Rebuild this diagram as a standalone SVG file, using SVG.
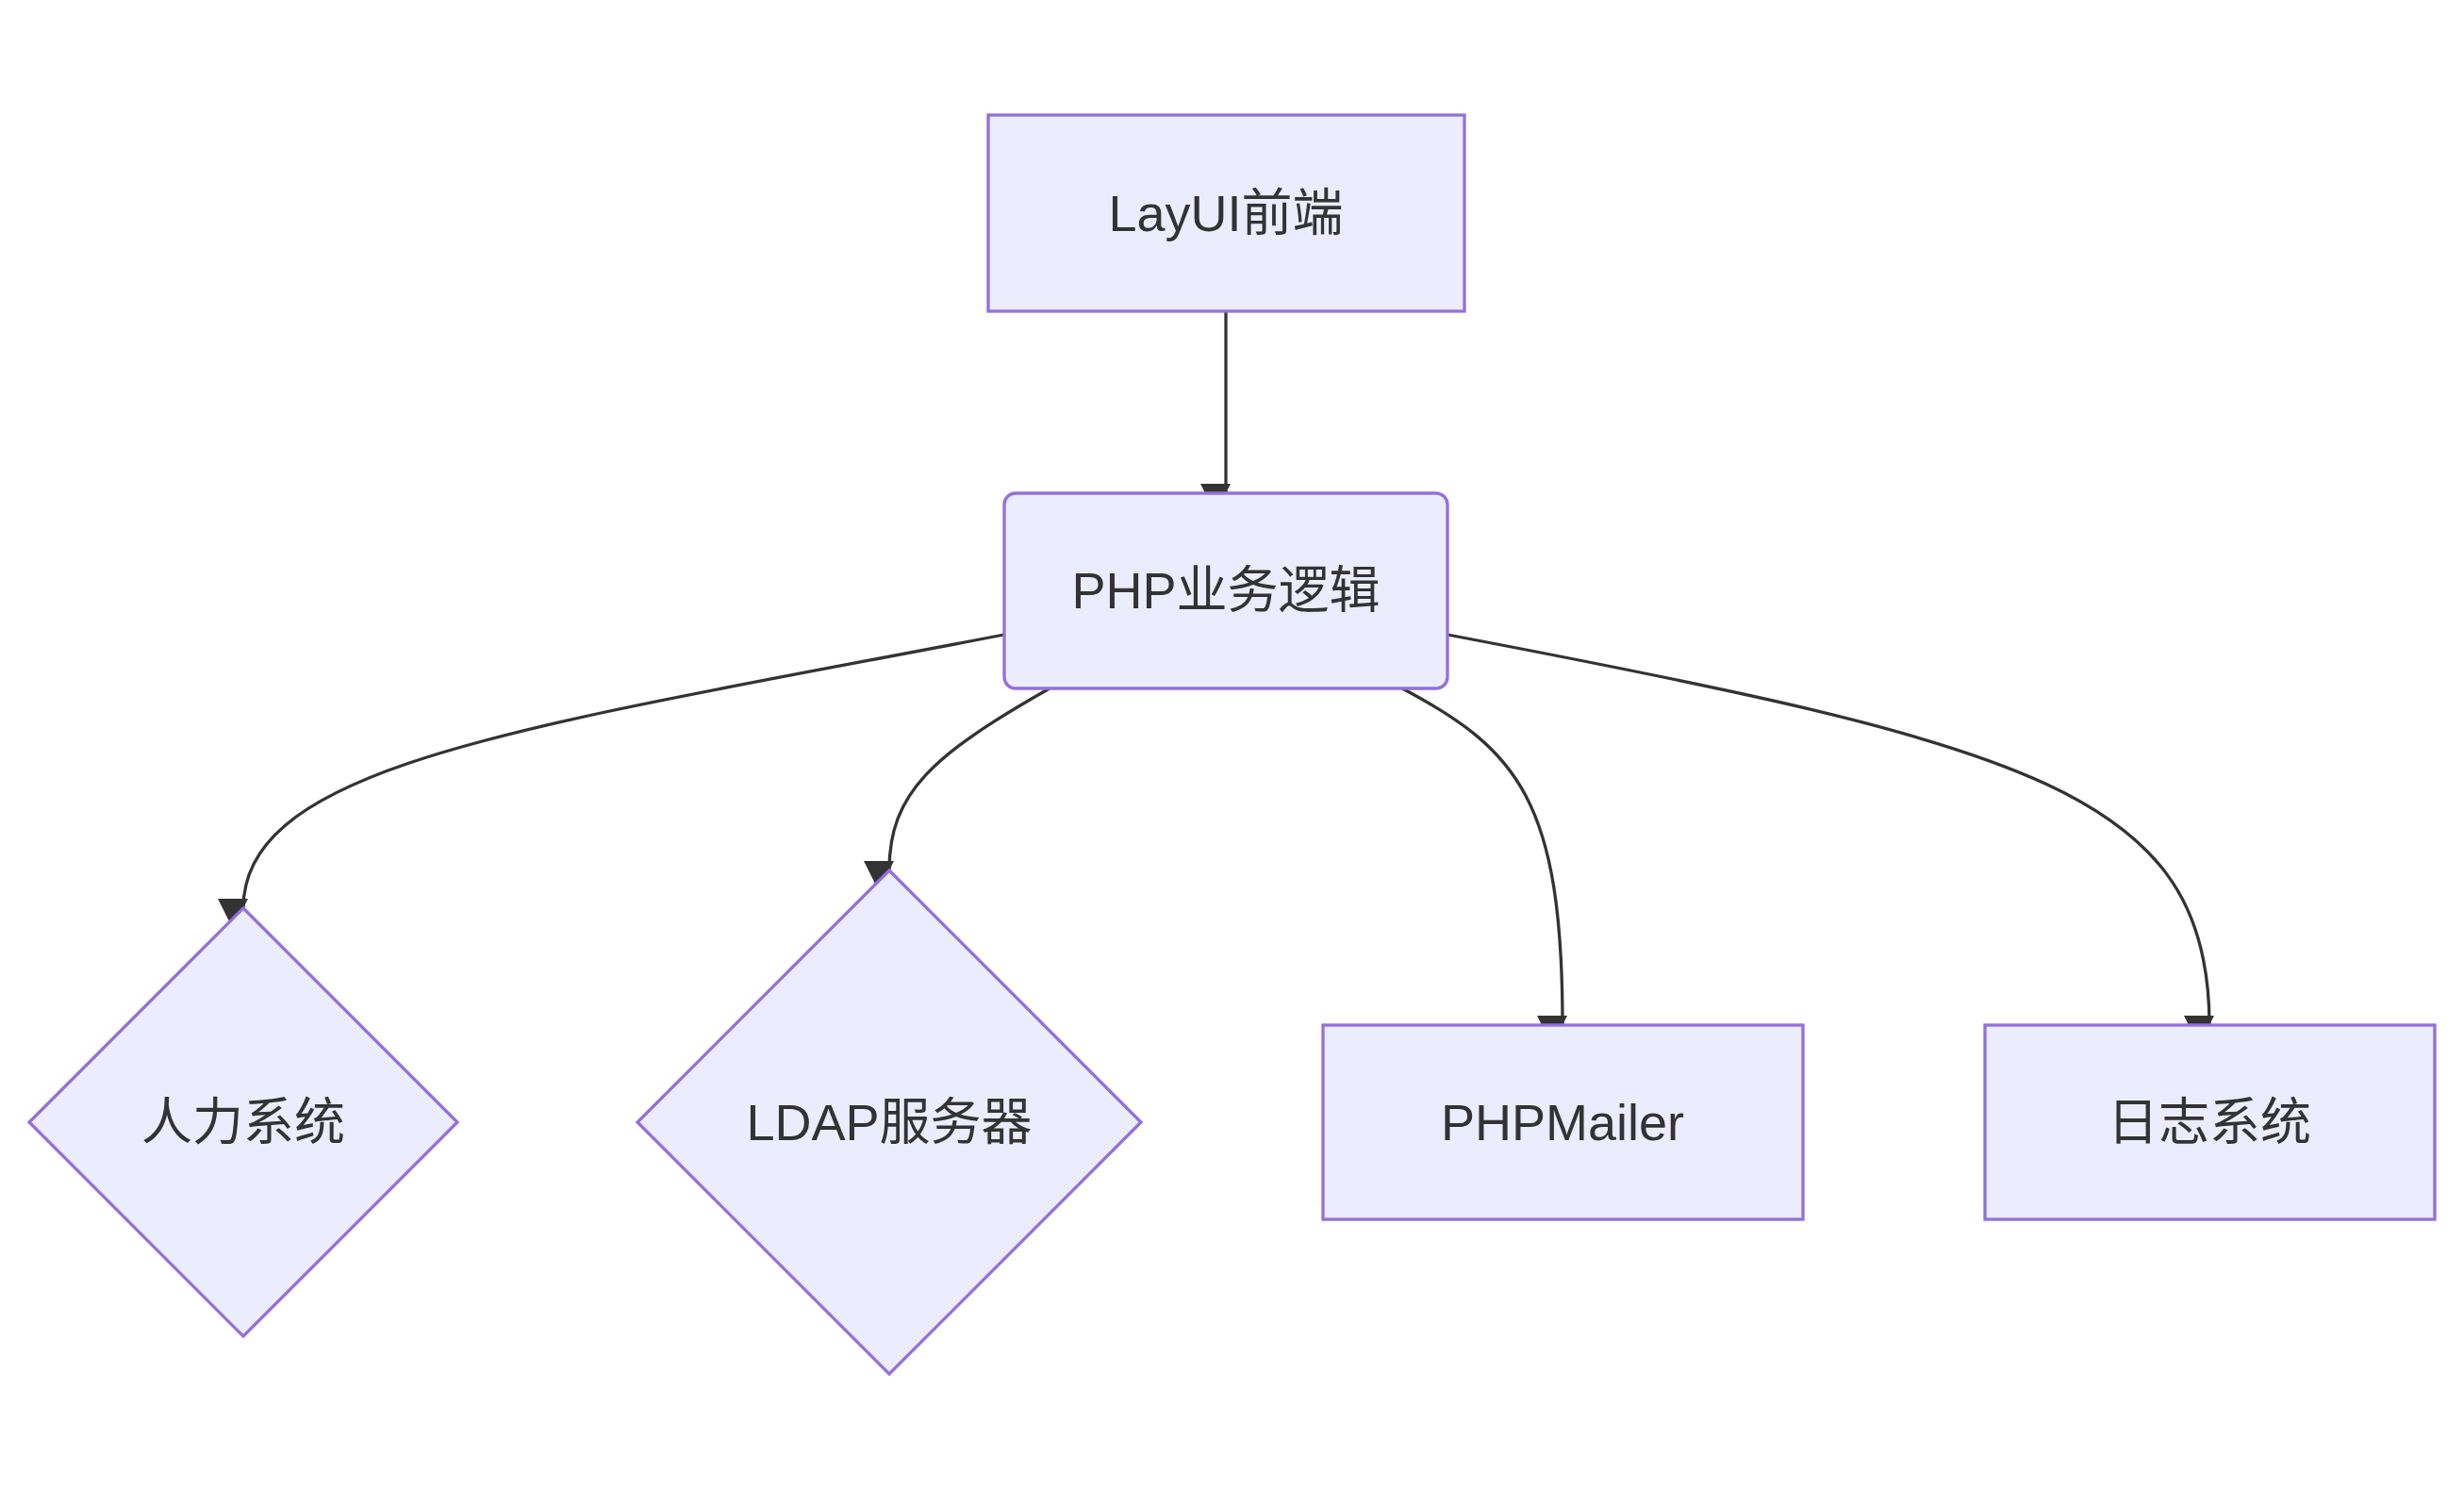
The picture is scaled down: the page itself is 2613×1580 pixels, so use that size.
<svg xmlns="http://www.w3.org/2000/svg" width="2613" height="1580" viewBox="0 0 2613 1580">
<style>
.n{fill:#ECECFF;stroke:#9370DB;stroke-width:3.3}
.t{font-family:"Liberation Sans","Noto Sans CJK SC",sans-serif;font-size:54px;fill:#333;text-anchor:middle;dominant-baseline:central}
.e{fill:none;stroke:#333;stroke-width:3.3}
</style>
<defs><marker id="a" viewBox="0 0 10 10" refX="10" refY="5" markerWidth="10" markerHeight="10" markerUnits="userSpaceOnUse" orient="auto" style="overflow:visible"><path d="M0,0L10,5L0,10z" fill="#333" transform="scale(3.2)" /></marker></defs>
<rect width="2613" height="1580" fill="#fff"/>
<g id="edges">
<path class="e" d="M1300,330L1300,523" marker-end="url(#a)"/>
<path class="e" d="M1065,673C560,770 258,810 258,963" marker-end="url(#a)"/>
<path class="e" d="M1113,730C990,800 943,840 943,923" marker-end="url(#a)"/>
<path class="e" d="M1487,730C1610,795 1657,850 1657,1087" marker-end="url(#a)"/>
<path class="e" d="M1535,673C2150,790 2343,840 2343,1087" marker-end="url(#a)"/>
</g>
<g id="layui"><rect class="n" x="1048" y="122" width="505" height="208"/><text class="t" x="1300" y="226">LayUI前端</text></g>
<g id="php"><rect class="n" x="1065" y="523" width="470" height="207" rx="12"/><text class="t" x="1300" y="626">PHP业务逻辑</text></g>
<g id="hr"><polygon class="n" points="258,963 485,1190 258,1417 31,1190"/><text class="t" x="258" y="1190">人力系统</text></g>
<g id="ldap"><polygon class="n" points="943,923 1210,1190 943,1457 676,1190"/><text class="t" x="943" y="1190">LDAP服务器</text></g>
<g id="mailer"><rect class="n" x="1403" y="1087" width="509" height="206"/><text class="t" x="1657" y="1190">PHPMailer</text></g>
<g id="log"><rect class="n" x="2105" y="1087" width="477" height="206"/><text class="t" x="2343" y="1190">日志系统</text></g>
</svg>
